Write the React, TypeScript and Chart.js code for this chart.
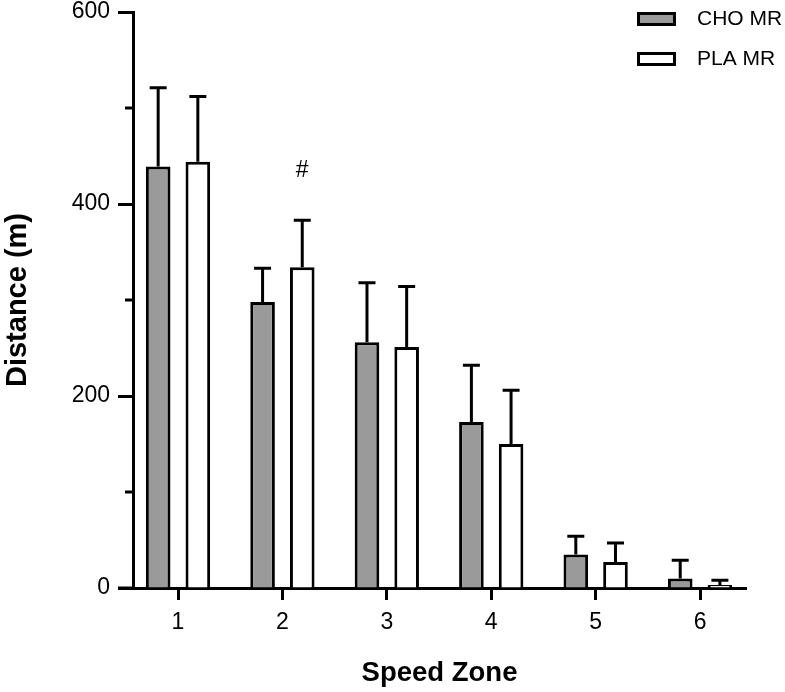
import { useEffect, useRef } from "react";
import { Chart, registerables } from "chart.js";

Chart.register(...registerables);

const zones = [1, 2, 3, 4, 5, 6];
const choMean = [439, 298, 256, 173, 35, 10];
const choSd = [82, 35, 62, 59, 19, 19];
const plaMean = [444, 334, 251, 150, 27, 3];
const plaSd = [68, 49, 63, 56, 20, 5];
const seriesNames = ["CHO MR", "PLA MR"];
const yTicks = [0, 200, 400, 600];
const yMinorTicks = [100, 300, 500];
// significance marks: [dataset index, zone index, label]
const marks: [number, number, string][] = [[1, 1, "#"]];

const FONT = "'Liberation Sans', Arial, sans-serif";

const errorBars = {
    id: "errorBars",
    afterDatasetsDraw(chart: any) {
        const { ctx } = chart;
        const sds = [choSd, plaSd];
        const yScale = chart.scales.y;
        ctx.save();
        ctx.strokeStyle = "#000";
        ctx.lineWidth = 3;
        chart.data.datasets.forEach((ds: any, di: number) => {
            const meta = chart.getDatasetMeta(di);
            meta.data.forEach((bar: any, i: number) => {
                const v = ds.data[i].y;
                const top = yScale.getPixelForValue(v + sds[di][i]);
                ctx.beginPath();
                ctx.moveTo(bar.x, bar.y);
                ctx.lineTo(bar.x, top);
                ctx.moveTo(bar.x - 8.5, top);
                ctx.lineTo(bar.x + 8.5, top);
                ctx.stroke();
            });
        });
        // significance marks
        ctx.fillStyle = "#000";
        ctx.font = `23px ${FONT}`;
        ctx.textAlign = "center";
        ctx.textBaseline = "middle";
        marks.forEach(([di, i, label]) => {
            const bar = chart.getDatasetMeta(di).data[i];
            const v = chart.data.datasets[di].data[i].y + sds[di][i];
            ctx.fillText(label, bar.x, yScale.getPixelForValue(v) - 50);
        });
        ctx.restore();
    },
    afterDraw(chart: any) {
        const { ctx, chartArea } = chart;
        const yScale = chart.scales.y;
        ctx.save();
        ctx.strokeStyle = "#000";
        ctx.lineWidth = 3;
        // minor y ticks
        yMinorTicks.forEach((v) => {
            const y = yScale.getPixelForValue(v);
            ctx.beginPath();
            ctx.moveTo(chartArea.left - 8, y);
            ctx.lineTo(chartArea.left, y);
            ctx.stroke();
        });
        // x axis line runs out under the y ticks
        ctx.beginPath();
        ctx.moveTo(chartArea.left - 15, chartArea.bottom);
        ctx.lineTo(chartArea.left, chartArea.bottom);
        ctx.stroke();

        // legend
        const colors = ["#9a9a9a", "#ffffff"];
        ctx.font = `21px ${FONT}`;
        ctx.textAlign = "left";
        ctx.textBaseline = "middle";
        seriesNames.forEach((name, i) => {
            const y = 13.5 + i * 40;
            ctx.fillStyle = colors[i];
            ctx.fillRect(638.5, y, 36, 11);
            ctx.strokeRect(638.5, y, 36, 11);
            ctx.fillStyle = "#000";
            ctx.fillText(name, 697, y + 5.5);
        });
        ctx.restore();
    },
};

export default function App() {
    const chartRef = useRef<HTMLCanvasElement | null>(null);

    useEffect(() => {
        if (!chartRef.current) return;
        const ctx = chartRef.current.getContext("2d");
        if (!ctx) return;

        const myChart = new Chart(ctx, {
            type: "bar",
            data: {
                datasets: [
                    {
                        label: seriesNames[0],
                        data: zones.map((z, i) => ({ x: z, y: choMean[i] })),
                        backgroundColor: "#9a9a9a",
                        borderColor: "#000",
                        borderWidth: 3,
                        borderSkipped: "bottom",
                    },
                    {
                        label: seriesNames[1],
                        data: zones.map((z, i) => ({ x: z, y: plaMean[i] })),
                        backgroundColor: "#ffffff",
                        borderColor: "#000",
                        borderWidth: 3,
                        borderSkipped: "bottom",
                    },
                ],
            },
            options: {
                animation: false,
                responsive: true,
                maintainAspectRatio: false,
                categoryPercentage: 0.76,
                barPercentage: 0.62,
                layout: { padding: { top: 12, right: 39, left: 0, bottom: 0 } },
                plugins: {
                    legend: { display: false },
                    tooltip: { enabled: false },
                },
                scales: {
                    x: {
                        type: "linear",
                        min: 0.569,
                        max: 6.44,
                        offset: false,
                        afterBuildTicks: (scale: any) => {
                            scale.ticks = zones.map((z) => ({ value: z }));
                        },
                        afterFit: (scale: any) => {
                            scale.height = 104;
                            scale.paddingLeft = 0;
                            scale.paddingRight = 0;
                        },
                        grid: {
                            offset: false,
                            drawOnChartArea: false,
                            drawTicks: true,
                            tickLength: 12,
                            tickWidth: 3,
                            tickColor: "#000",
                        },
                        border: { color: "#000", width: 3 },
                        ticks: {
                            color: "#000",
                            padding: 9,
                            font: { family: FONT, size: 23 },
                        },
                        title: {
                            display: true,
                            text: "Speed Zone",
                            color: "#000",
                            padding: { top: 0, bottom: 2 },
                            font: { family: FONT, size: 27.5, weight: "bold" },
                        },
                    },
                    y: {
                        min: 0,
                        max: 600,
                        afterBuildTicks: (scale: any) => {
                            scale.ticks = yTicks.map((v) => ({ value: v }));
                        },
                        afterFit: (scale: any) => {
                            scale.width = 133;
                            scale.paddingTop = 0;
                            scale.paddingBottom = 0;
                        },
                        grid: {
                            drawOnChartArea: false,
                            drawTicks: true,
                            tickLength: 15,
                            tickWidth: 3,
                            tickColor: "#000",
                        },
                        border: { color: "#000", width: 3 },
                        ticks: {
                            color: "#000",
                            padding: 8,
                            font: { family: FONT, size: 23 },
                        },
                        title: {
                            display: true,
                            text: "Distance (m)",
                            color: "#000",
                            padding: { top: 1, bottom: 0 },
                            font: { family: FONT, size: 29, weight: "bold" },
                        },
                    },
                },
            },
            plugins: [errorBars],
        });
        return () => {
            myChart.destroy();
        };
    }, []);

    return (
        <div style={{ position: "fixed", left: 0, top: 0, width: 785, height: 692, background: "#fff" }}>
            <canvas ref={chartRef}></canvas>
        </div>
    );
}
